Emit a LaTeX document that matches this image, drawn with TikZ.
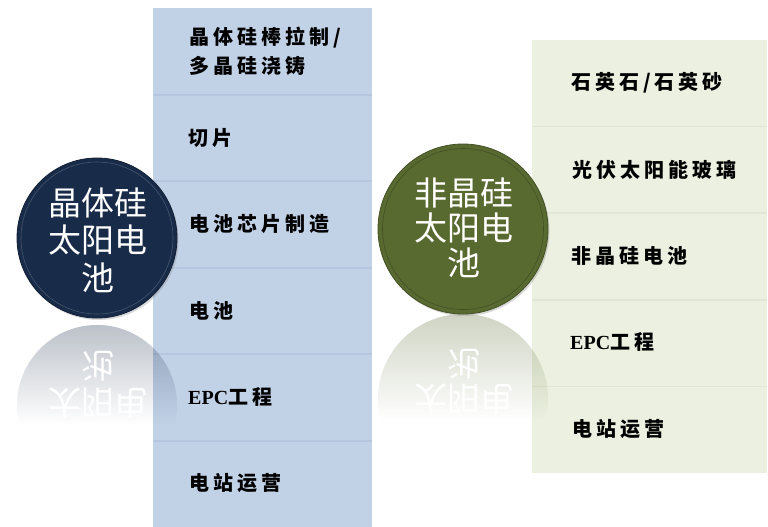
\documentclass[tikz,border=0pt]{standalone}
\usepackage{fontspec}
\setmainfont{Liberation Serif}
\newfontfamily\cjk{Noto Sans CJK SC}
\newfontfamily\cjkcol[LetterSpace=20]{Noto Sans CJK SC}
\newfontfamily\epcfont{Liberation Serif}
\usetikzlibrary{fadings,shadows}

\definecolor{navy}{RGB}{24,43,72}
\definecolor{olive}{RGB}{89,106,48}
\definecolor{leftcol}{RGB}{193,209,230}
\definecolor{leftsep}{RGB}{181,198,222}
\definecolor{rightcol}{RGB}{235,240,224}
\definecolor{rightsep}{RGB}{225,231,212}

\begin{tikzfadingfrompicture}[name=reflfade]
  \fill[transparent!100] (-50bp,-50bp) rectangle (50bp,50bp);
  \shade[top color=transparent!48, bottom color=transparent!100] (-50bp,-6bp) rectangle (50bp,50bp);
\end{tikzfadingfrompicture}

\begin{document}
\begin{tikzpicture}[x=1pt,y=-1pt,
  coltext/.style={anchor=west, inner sep=0pt, align=left, text=black,
    font=\cjkcol\bfseries\fontsize{20}{29}\selectfont},
  circtext/.style={inner sep=0pt, align=center, text=white},
  ball/.style={circle, inner sep=0pt, draw=#1!75!black, line width=0.8pt, fill=#1,
    drop shadow={opacity=0.3, shadow xshift=1.5pt, shadow yshift=-2pt}},
  refl/.style={fill=#1, path fading=reflfade, fit fading=true}]
\useasboundingbox (0,0) rectangle (768,527);
\fill[white] (0,0) rectangle (768,527);

% left column
\fill[leftcol] (153,8) rectangle (372,527);
\foreach \yy in {94.5,181,267.5,354,440.5}
  \draw[leftsep, line width=2pt] (153,\yy) -- (372,\yy);

% right column
\fill[rightcol] (532,40) rectangle (767,473);
\foreach \yy in {126.6,213.2,299.8,386.4}
  \draw[rightsep, line width=1.5pt] (532,\yy) -- (767,\yy);

% column texts
\node[coltext] (l1) at (189,51.5) {晶体硅棒拉制/\\多晶硅浇铸};
\node[coltext] (l2) at (188,138) {切片};
\node[coltext] (l3) at (189,224) {电池芯片制造};
\node[coltext] (l4) at (189,311) {电池};
\node[coltext] (l5) at (188,397) {{\epcfont\bfseries EPC}工程};
\node[coltext] (l6) at (189,483) {电站运营};

\node[coltext] (r1) at (571,83) {石英石/石英砂};
\node[coltext] (r2) at (572,170) {光伏太阳能玻璃};
\node[coltext] (r3) at (571,256) {非晶硅电池};
\node[coltext] (r4) at (570,342) {{\epcfont\bfseries EPC}工程};
\node[coltext] (r5) at (572,429) {电站运营};

% reflections
\fill[refl=navy] (97,405) circle (80pt);
\begin{scope}[shift={(98,384.5)}]
  \node[circtext, yscale=-1, transform shape, font=\cjk\fontsize{33}{37.5}\selectfont] (lm) at (0,0) {太阳电\\池};
\end{scope}
\fill[refl=olive] (463,399) circle (85pt);
\begin{scope}[shift={(464,381.5)}]
  \node[circtext, yscale=-1, transform shape, font=\cjk\fontsize{33}{35}\selectfont] (rm) at (0,0) {太阳电\\池};
\end{scope}

% circles
\node[ball=navy, minimum size=160pt] (c1) at (97,238) {};
\draw[navy!80!white, line width=0.6pt] (c1.center) circle (76pt);
\node[circtext, font=\cjk\fontsize{33}{37.5}\selectfont] (t1) at (98,240) {晶体硅\\太阳电\\池};

\node[ball=olive, minimum size=170pt] (c2) at (463,229) {};
\draw[olive!75!black, line width=0.6pt] (c2.center) circle (80.5pt);
\node[circtext, font=\cjk\fontsize{33}{35}\selectfont] (t2) at (464,228) {非晶硅\\太阳电\\池};
\end{tikzpicture}
\end{document}
